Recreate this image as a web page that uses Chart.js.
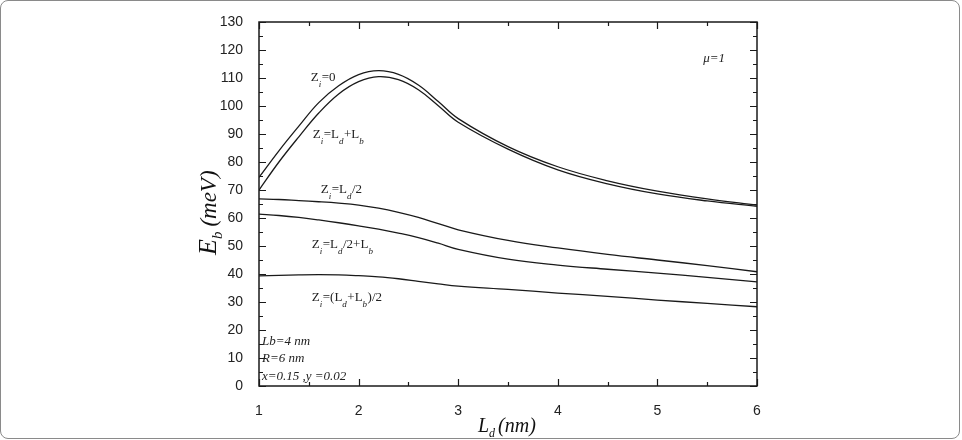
<!DOCTYPE html>
<html>
<head>
<meta charset="utf-8">
<script src="https://cdn.jsdelivr.net/npm/chart.js@4.4.1/dist/chart.umd.min.js"></script>
<style>
  html, body { margin: 0; padding: 0; background: #fff; }
  .frame { position: absolute; left: 0; top: 0; width: 958px; height: 437px;
           border: 1px solid #8a8a8a; border-radius: 8px; }
  .chart-box { position: absolute; left: 0; top: 0; width: 962px; height: 440px; }
</style>
</head>
<body>
<div class="frame"></div>
<div class="chart-box"><canvas id="bindingChart"></canvas></div>
<script>
// well width L_d (nm)
const ldValues = [1, 1.2, 1.4, 1.6, 1.8, 2, 2.2, 2.4, 2.6, 2.8, 3, 3.5, 4, 4.5, 5, 5.5, 6];

// binding energy E_b (meV) for each impurity position
const ebZ0 = [74.5, 84, 92.8, 101.2, 107.2, 111.2, 112.6, 111.3, 107.5, 101.6, 95.5, 85.5, 78.3, 73.3, 69.6, 66.8, 64.6];
const ebLdLb = [70, 80, 89, 97.5, 104.3, 108.7, 110.5, 109.4, 105.8, 100.1, 94.2, 84.6, 77.2, 72.2, 68.6, 66.1, 64.2];
const ebHalfLd = [66.8, 66.6, 66.2, 65.8, 65.3, 64.6, 63.5, 62, 60.2, 58, 55.8, 52, 49.3, 47, 45, 43, 40.8];
const ebHalfLdLb = [61.4, 60.9, 60.2, 59.3, 58.3, 57.2, 56, 54.6, 53, 51, 48.8, 45.3, 43.2, 41.7, 40.3, 38.8, 37.2];
const ebHalfSum = [39.3, 39.5, 39.7, 39.8, 39.7, 39.4, 39, 38.3, 37.4, 36.5, 35.7, 34.5, 33.2, 32, 30.7, 29.5, 28.3];

const xTicks = [1, 2, 3, 4, 5, 6];
const yTicks = [0, 10, 20, 30, 40, 50, 60, 70, 80, 90, 100, 110, 120, 130];

// curve labels: pieces of [text, subscript?], anchored at data coords
const curveLabels = [
  { x: 1.52, y: 109, parts: [['Z', 0], ['i', 1], ['=0', 0]] },
  { x: 1.54, y: 88.6, parts: [['Z', 0], ['i', 1], ['=L', 0], ['d', 1], ['+L', 0], ['b', 1]] },
  { x: 1.62, y: 69, parts: [['Z', 0], ['i', 1], ['=L', 0], ['d', 1], ['/2', 0]] },
  { x: 1.53, y: 49.3, parts: [['Z', 0], ['i', 1], ['=L', 0], ['d', 1], ['/2+L', 0], ['b', 1]] },
  { x: 1.53, y: 30.4, parts: [['Z', 0], ['i', 1], ['=(L', 0], ['d', 1], ['+L', 0], ['b', 1], [')/2', 0]] }
];
const noteLabels = [
  { x: 5.46, y: 115.7, text: 'μ=1' },
  { x: 1.03, y: 14.6, text: 'Lb=4 nm' },
  { x: 1.03, y: 8.6, text: 'R=6 nm' },
  { x: 1.03, y: 2.1, text: 'x=0.15 ,y =0.02' }
];

function toPoints(ys) {
  return ldValues.map((x, i) => ({ x: x, y: ys[i] }));
}

function makeSet(label, ys) {
  return {
    label: label,
    data: toPoints(ys),
    borderColor: '#1a1a1a',
    borderWidth: 1.3,
    pointRadius: 0,
    fill: false,
    tension: 0.4
  };
}

const LINE = '#1a1a1a';

// frame, inward ticks on all four sides, texts with subscripts
const decorPlugin = {
  id: 'decor',
  afterDraw(chart) {
    const ctx = chart.ctx;
    const area = chart.chartArea;
    const xs = chart.scales.x;
    const ys = chart.scales.y;
    ctx.save();
    ctx.strokeStyle = LINE;
    ctx.lineWidth = 1.5;
    ctx.strokeRect(area.left, area.top, area.right - area.left, area.bottom - area.top);

    ctx.lineWidth = 1.2;
    ctx.beginPath();
    for (let v = 1; v <= 6.001; v += 0.5) {
      const px = Math.round(xs.getPixelForValue(v)) + 0.5;
      const len = Number.isInteger(v) ? 7 : 4;
      ctx.moveTo(px, area.bottom); ctx.lineTo(px, area.bottom - len);
      ctx.moveTo(px, area.top); ctx.lineTo(px, area.top + len);
    }
    for (let v = 0; v <= 130; v += 5) {
      const py = Math.round(ys.getPixelForValue(v)) + 0.5;
      const len = v % 10 === 0 ? 7 : 4;
      ctx.moveTo(area.left, py); ctx.lineTo(area.left + len, py);
      ctx.moveTo(area.right, py); ctx.lineTo(area.right - len, py);
    }
    ctx.stroke();

    ctx.fillStyle = '#222';
    ctx.textBaseline = 'alphabetic';
    ctx.textAlign = 'left';

    curveLabels.forEach(lbl => {
      let px = xs.getPixelForValue(lbl.x);
      const py = ys.getPixelForValue(lbl.y);
      lbl.parts.forEach(([t, sub]) => {
        ctx.font = sub ? 'italic 9px "Liberation Serif"' : '13px "Liberation Serif"';
        ctx.fillText(t, px, sub ? py + 6 : py);
        px += ctx.measureText(t).width + (sub ? 0.5 : 0);
      });
    });

    ctx.font = 'italic 13px "Liberation Serif"';
    noteLabels.forEach(n => {
      ctx.fillText(n.text, xs.getPixelForValue(n.x), ys.getPixelForValue(n.y));
    });

    // x axis title: L_d (nm)
    ctx.fillStyle = '#111';
    let tx = (area.left + area.right) / 2 - 30;
    const ty = 432;
    ctx.font = 'italic 20px "Liberation Serif"';
    ctx.fillText('L', tx, ty);
    tx += ctx.measureText('L').width;
    ctx.font = 'italic 12px "Liberation Serif"';
    ctx.fillText('d', tx, ty + 5);
    tx += ctx.measureText('d').width + 3;
    ctx.font = 'italic 20px "Liberation Serif"';
    ctx.fillText('(nm)', tx, ty);

    // y axis title: E_b (meV), rotated
    ctx.translate(216, 255);
    ctx.rotate(-Math.PI / 2);
    let ex = 0;
    ctx.font = 'italic 26px "Liberation Serif"';
    ctx.fillText('E', ex, 0);
    ex += ctx.measureText('E').width;
    ctx.font = 'italic 15px "Liberation Serif"';
    ctx.fillText('b', ex, 6);
    ex += ctx.measureText('b').width + 5;
    ctx.font = 'italic 23px "Liberation Serif"';
    ctx.fillText('(meV)', ex, 0);
    ctx.restore();
  }
};

new Chart(document.getElementById('bindingChart'), {
  type: 'line',
  data: {
    datasets: [
      makeSet('Zi=0', ebZ0),
      makeSet('Zi=Ld+Lb', ebLdLb),
      makeSet('Zi=Ld/2', ebHalfLd),
      makeSet('Zi=Ld/2+Lb', ebHalfLdLb),
      makeSet('Zi=(Ld+Lb)/2', ebHalfSum)
    ]
  },
  options: {
    responsive: true,
    maintainAspectRatio: false,
    animation: false,
    layout: { padding: { top: 22, right: 205, left: 0, bottom: 0 } },
    plugins: { legend: { display: false }, tooltip: { enabled: false } },
    scales: {
      x: {
        type: 'linear',
        min: 1,
        max: 6,
        grid: { display: false },
        border: { display: false },
        afterBuildTicks: scale => { scale.ticks = xTicks.map(v => ({ value: v })); },
        afterFit: scale => { scale.height = 54; },
        ticks: { padding: 9, color: '#222', font: { family: 'Liberation Sans', size: 14 } }
      },
      y: {
        min: 0,
        max: 130,
        grid: { display: false },
        border: { display: false },
        afterBuildTicks: scale => { scale.ticks = yTicks.map(v => ({ value: v })); },
        afterFit: scale => { scale.width = 259; },
        ticks: { padding: 8, color: '#222', font: { family: 'Liberation Sans', size: 14 } }
      }
    }
  },
  plugins: [decorPlugin]
});
</script>
</body>
</html>
